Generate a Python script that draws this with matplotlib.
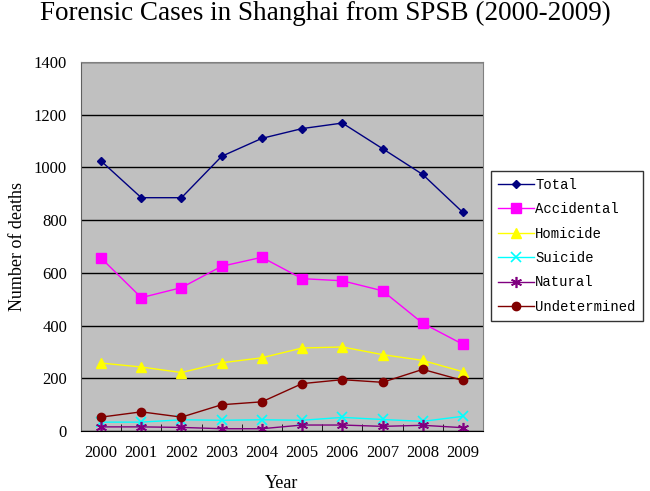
import matplotlib.pyplot as plt
import numpy as np

years = ['2000', '2001', '2002', '2003', '2004', '2005', '2006', '2007', '2008', '2009']
total = [1024, 885, 885, 1042, 1110, 1147, 1168, 1071, 973, 829]
accidental = [656, 506, 544, 625, 659, 578, 570, 532, 409, 329]
homicide = [258, 243, 222, 259, 278, 315, 319, 290, 268, 225]
suicide = [34, 34, 43, 41, 43, 41, 52, 44, 37, 56]
natural = [16, 16, 14, 9, 9, 23, 23, 18, 22, 13]
undetermined = [53, 73, 53, 100, 111, 180, 195, 185, 234, 192]

plt.rcParams['font.family'] = 'Liberation Serif'

fig = plt.figure(figsize=(6.5, 4.91), dpi=100)
ax = fig.add_axes([0.1246, 0.122, 0.6185, 0.752])
ax.set_facecolor('#C0C0C0')

x = np.arange(len(years))
ax.plot(x, total, color='#000080', marker='D', markersize=4, lw=1, label='Total')
ax.plot(x, accidental, color='#FF00FF', marker='s', markersize=7, lw=1, label='Accidental')
ax.plot(x, homicide, color='#FFFF00', marker='^', markersize=7, lw=1, label='Homicide')
ax.plot(x, suicide, color='#00FFFF', marker='x', markersize=7, mew=1.2, lw=1, label='Suicide')
ax.plot(x, natural, color='#800080', marker=(6, 2, 0), markersize=8, mew=1.2, lw=1, label='Natural')
ax.plot(x, undetermined, color='#800000', marker='o', markersize=6, lw=1, label='Undetermined')

ax.set_xlim(-0.5, 9.5)
ax.set_ylim(0, 1400)
ax.set_yticks(range(0, 1401, 200))
ax.yaxis.grid(True, color='black', lw=1)
ax.set_axisbelow(True)

ax.set_xticks(x)
ax.set_xticklabels(years, fontsize=12)
ax.set_xticks(np.arange(-0.5, 10, 1), minor=True)
ax.tick_params(axis='x', which='major', length=0, pad=10)
ax.tick_params(axis='x', which='minor', length=5, direction='in', color='black')
ax.tick_params(axis='y', length=0, labelsize=12, pad=10)

for s in ['top', 'right']:
    ax.spines[s].set_color('#808080')
ax.spines['left'].set_color('#606060')
ax.spines['bottom'].set_color('black')

ax.set_xlabel('Year', fontsize=13, labelpad=10)
ax.set_ylabel('Number of deaths', fontsize=13, labelpad=6)
fig.text(0.5, 0.972, 'Forensic Cases in Shanghai from SPSB (2000-2009)',
         ha='center', va='center', fontsize=19.5)

leg = fig.legend(loc='upper left', bbox_to_anchor=(0.755, 0.652),
                 prop={'family': 'Liberation Mono', 'size': 10},
                 frameon=True, fancybox=False, edgecolor='black',
                 handlelength=2.6, handletextpad=0.1, labelspacing=0.75,
                 borderpad=0.5, borderaxespad=0)
leg.get_frame().set_linewidth(1)

fig.savefig('out.png', dpi=100)
